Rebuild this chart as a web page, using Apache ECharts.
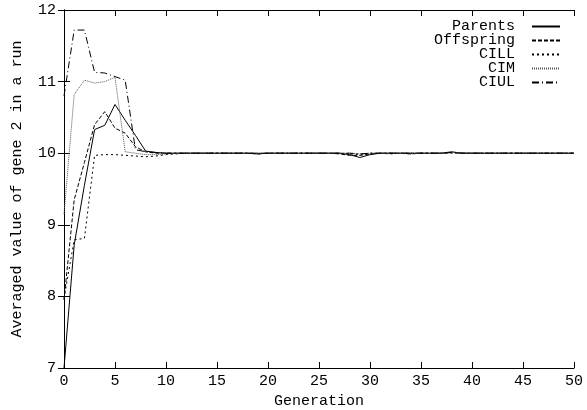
<!DOCTYPE html>
<html><head><meta charset="utf-8">
<script src="https://cdn.jsdelivr.net/npm/echarts@6/dist/echarts.min.js"></script>
<style>html,body{margin:0;padding:0;background:#fff}#c{width:587px;height:410px}</style>
</head><body><div id="c"></div>
<script>
var seriesNames = ['Parents','Offspring','CILL','CIM','CIUL'];
var xTicks = [0,5,10,15,20,25,30,35,40,45,50];
var yTicks = [7,8,9,10,11,12];
var parents = [7.0,8.72,9.55,10.33,10.39,10.68,10.46,10.25,10.03,10.01,10.0,10.0,10.0,10.0,10.0,10.0,10.0,10.0,10.0,9.99,10.0,10.0,10.0,10.0,10.0,10.0,10.0,10.0,9.98,9.94,9.98,10.0,10.0,10.0,10.0,10.0,10.0,10.0,10.02,10.0,10.0,10.0,10.0,10.0,10.0,10.0,10.0,10.0,10.0,10.0,10.0];
var offspring = [7.95,9.35,9.87,10.4,10.58,10.35,10.28,10.09,10.02,10.0,10.0,10.0,10.0,10.0,10.0,10.0,10.0,10.0,10.0,9.99,10.0,10.0,10.0,10.0,10.0,10.0,10.0,9.99,9.97,9.97,9.99,10.0,10.0,10.0,9.99,10.0,10.0,10.0,10.01,10.0,10.0,10.0,10.0,10.0,10.0,10.0,10.0,10.0,10.0,10.0,10.0];
var cill = [7.97,8.79,8.81,9.97,9.98,9.98,9.97,9.96,9.95,9.96,9.98,9.99,10.0,10.0,10.0,10.0,10.0,10.0,10.0,10.0,10.0,10.0,10.0,10.0,10.0,10.0,10.0,10.0,9.99,9.98,10.0,10.0,9.99,10.0,10.0,10.0,10.0,10.0,10.0,10.0,10.0,10.0,10.0,10.0,10.0,10.0,10.0,10.0,10.0,10.0,10.0];
var cim = [9.15,10.82,11.02,10.98,11.0,11.06,10.02,10.0,9.98,9.98,9.99,10.0,10.0,10.0,10.0,10.0,10.0,10.0,10.0,10.0,10.0,10.0,10.0,10.0,10.0,10.0,10.0,10.0,10.0,9.99,10.0,10.0,10.0,10.0,9.99,10.0,10.0,10.0,10.01,10.0,10.0,10.0,10.0,10.0,10.0,10.0,10.0,10.0,10.0,10.0,10.0];
var ciul = [10.8,11.72,11.72,11.13,11.12,11.07,11.02,10.05,10.02,10.01,10.0,10.0,10.0,10.0,10.0,10.0,10.0,10.0,10.0,10.0,10.0,10.0,10.0,10.0,10.0,10.0,10.0,10.0,10.0,9.99,10.0,10.0,10.0,10.0,10.0,10.0,10.0,10.0,10.01,10.0,10.0,10.0,10.0,10.0,10.0,10.0,10.0,10.0,10.0,10.0,10.0];

var FONT = 'Liberation Mono';
function pairs(arr){ return arr.map(function(v,i){ return [i, v]; }); }
var styles = [
  {type:'solid', color:'#000'},
  {type:[4,2], color:'#000'},
  {type:[2,3], color:'#000'},
  {type:[1,1], color:'#555'},
  {type:[7,3,1,3], color:'#000'}
];
var values = [parents, offspring, cill, cim, ciul];
var chart = echarts.init(document.getElementById('c'), null, {renderer:'canvas'});
var axisCommon = {
  axisLine:{show:true, lineStyle:{color:'#000', width:1}},
  axisTick:{show:true, inside:true, length:6, lineStyle:{color:'#000'}},
  splitLine:{show:false}
};
chart.setOption({
  animation:false,
  backgroundColor:'#fff',
  grid:{left:64, right:13, top:10, bottom:42, outerBoundsMode:'none', containLabel:false},
  legend:{
    orient:'vertical', right:26, top:19, align:'right', padding:0,
    itemWidth:28, itemHeight:13, itemGap:-1,
    data:seriesNames,
    itemStyle:{color:'transparent', borderWidth:0, opacity:0},
    textStyle:{fontFamily:FONT, fontSize:15, color:'#000', padding:[0,12,0,0]},
    formatter:function(n){ return n.padStart(9,' '); }
  },
  xAxis:[
    Object.assign({type:'value', min:0, max:50, interval:5, position:'bottom',
      name:'Generation', nameLocation:'middle', nameGap:17,
      nameTextStyle:{fontFamily:FONT, fontSize:15, color:'#000'},
      axisLabel:{fontFamily:FONT, fontSize:15, color:'#000', margin:6}}, axisCommon),
    Object.assign({type:'value', min:0, max:50, interval:5, position:'top',
      axisLabel:{show:false}}, axisCommon)
  ],
  yAxis:[
    Object.assign({type:'value', min:7, max:12, interval:1, position:'left',
      name:'Averaged value of gene 2 in a run', nameLocation:'middle', nameGap:39, nameRotate:90,
      nameTextStyle:{fontFamily:FONT, fontSize:15, color:'#000'},
      axisLabel:{fontFamily:FONT, fontSize:15, color:'#000', margin:8}}, axisCommon),
    Object.assign({type:'value', min:7, max:12, interval:1, position:'right',
      axisLabel:{show:false}}, axisCommon)
  ],
  series: seriesNames.map(function(n,i){
    return {name:n, type:'line', data:pairs(values[i]), symbol:'none', showSymbol:false,
      xAxisIndex:0, yAxisIndex:0,
      lineStyle:{width:1, color:styles[i].color, type:styles[i].type},
      itemStyle:{color:styles[i].color}};
  })
});
</script></body></html>
